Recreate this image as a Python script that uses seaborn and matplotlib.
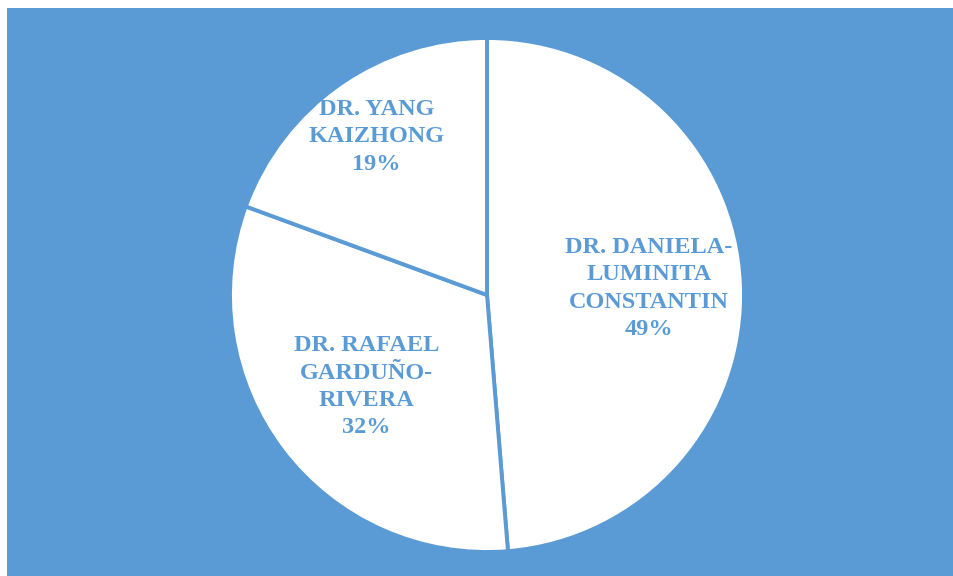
import matplotlib
matplotlib.use("Agg")
import matplotlib.pyplot as plt
import seaborn as sns
import numpy as np

# ---- data ----
names = ["DR. DANIELA-\nLUMINITA\nCONSTANTIN", "DR. RAFAEL\nGARDUÑO-\nRIVERA", "DR. YANG\nKAIZHONG"]
shares = [48.7, 31.9, 19.4]
label_radius = [0.63, 0.59, 0.75]

BLUE = "#5B9BD5"
sns.set_theme(style="white")
plt.rcParams["font.family"] = ["Liberation Serif", "DejaVu Serif"]

W, H = 954, 576
fig = plt.figure(figsize=(W / 100, H / 100), dpi=100)
fig.patch.set_facecolor("white")

# blue chart area
bg = fig.add_axes([7 / W, 0, (W - 7) / W, (H - 8) / H])
bg.set_facecolor(BLUE)
bg.set_xticks([]); bg.set_yticks([])
for s in bg.spines.values():
    s.set_visible(False)

# pie axes
cx, cy, r = 487, H - 295, 257
ax = fig.add_axes([(cx - r) / W, (cy - r) / H, 2 * r / W, 2 * r / H])
ax.set_facecolor("none")
colors = ["white"] * len(shares)
wedges, _ = ax.pie(shares, colors=colors, startangle=90, counterclock=False,
                   wedgeprops=dict(edgecolor=BLUE, linewidth=2.8))
ax.set_xlim(-1, 1)
ax.set_ylim(-1, 1)
ax.set_aspect("equal")
ax.axis("off")

total = sum(shares)
for w, name, v, lr in zip(wedges, names, shares, label_radius):
    mid = np.deg2rad((w.theta1 + w.theta2) / 2)
    ax.text(lr * np.cos(mid), lr * np.sin(mid), f"{name}\n{v / total * 100:.0f}%",
            ha="center", va="center", color=BLUE, fontsize=17.5, fontweight="bold",
            linespacing=1.4)

fig.savefig("out.png", dpi=100)
